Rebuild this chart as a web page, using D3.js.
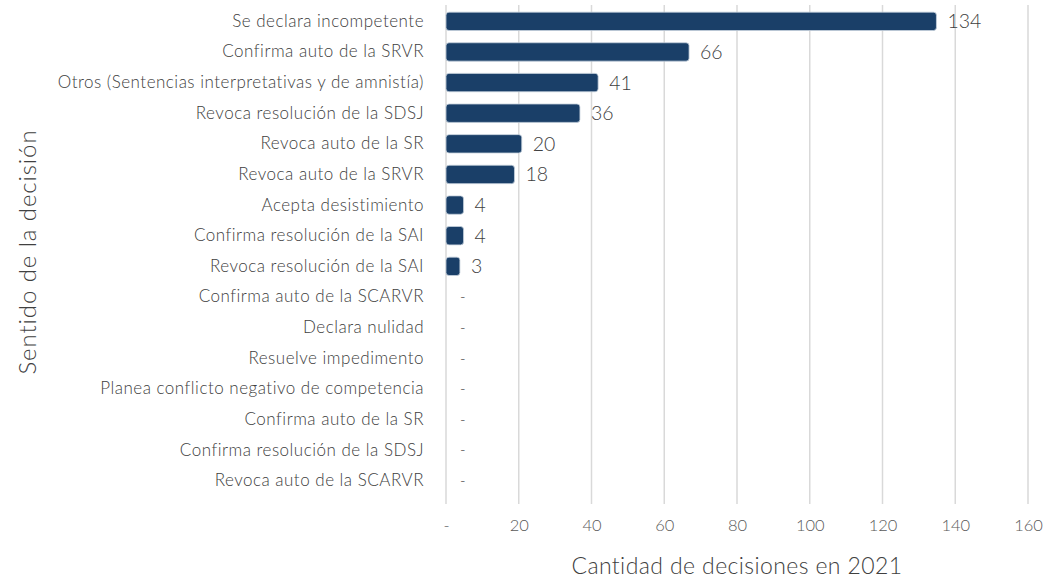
<!DOCTYPE html>
<html>
<head>
<meta charset="utf-8">
<script src="https://cdn.jsdelivr.net/npm/d3@7"></script>
<style>
  body { margin: 0; background: #fff; }
  svg { font-family: Lato, "Open Sans", sans-serif; }
</style>
</head>
<body>
<div id="chart"></div>
<script>
const categories = [
  "Se declara incompetente",
  "Confirma auto de la SRVR",
  "Otros (Sentencias interpretativas y de amnistía)",
  "Revoca resolución de la SDSJ",
  "Revoca auto de la SR",
  "Revoca auto de la SRVR",
  "Acepta desistimiento",
  "Confirma resolución de la SAI",
  "Revoca resolución de la SAI",
  "Confirma auto de la SCARVR",
  "Declara nulidad",
  "Resuelve impedimento",
  "Planea conflicto negativo de competencia",
  "Confirma auto de la SR",
  "Confirma resolución de la SDSJ",
  "Revoca auto de la SCARVR"
];
const values = [134, 66, 41, 36, 20, 18, 4, 4, 3, 0, 0, 0, 0, 0, 0, 0];
const xTicks = [0, 20, 40, 60, 80, 100, 120, 140, 160];

const width = 1047, height = 580;
const margin = { top: 6, right: 19, bottom: 84, left: 446 };

const svg = d3.select("#chart").append("svg")
  .attr("width", width)
  .attr("height", height);

const x = d3.scaleLinear()
  .domain([0, 160])
  .range([margin.left, width - margin.right]);

const y = d3.scaleBand()
  .domain(categories)
  .range([margin.top, height - margin.bottom])
  .paddingInner(0.4)
  .paddingOuter(0.2);

const fmt = v => v === 0 ? "-" : d3.format("d")(v);

// líneas de cuadrícula
svg.append("g")
  .selectAll("line")
  .data(xTicks)
  .enter().append("line")
  .attr("x1", d => x(d))
  .attr("x2", d => x(d))
  .attr("y1", margin.top - 1)
  .attr("y2", height - margin.bottom + 8)
  .attr("stroke", "#d9d9d9")
  .attr("stroke-width", 1.5);

// eje x
const xAxis = d3.axisBottom(x).tickValues(xTicks).tickFormat(fmt).tickSize(0).tickPadding(23);
const gx = svg.append("g")
  .attr("transform", `translate(0,${height - margin.bottom})`)
  .call(xAxis);
gx.select(".domain").remove();
gx.selectAll("text")
  .attr("font-size", "16.5px")
  .attr("font-weight", 300)
  .attr("fill", "#595959")
  .attr("font-family", "Lato, sans-serif");

// eje y
const yAxis = d3.axisLeft(y).tickSize(0).tickPadding(22);
const gy = svg.append("g")
  .attr("transform", `translate(${margin.left},0)`)
  .call(yAxis);
gy.select(".domain").remove();
gy.selectAll("text")
  .attr("font-size", "17px")
  .attr("font-weight", 300)
  .attr("letter-spacing", "0.5px")
  .attr("fill", "#404040")
  .attr("font-family", "Lato, sans-serif");

// barras
svg.append("g")
  .selectAll("rect")
  .data(values)
  .enter().append("rect")
  .filter(d => d > 0)
  .attr("x", x(0))
  .attr("y", (d, i) => y(categories[i]))
  .attr("height", y.bandwidth())
  .attr("width", d => x(d) - x(0) + 3)
  .attr("rx", 3)
  .attr("fill", "#1a3f68")
  .attr("stroke", "#c5d0dc")
  .attr("stroke-width", 0.8);

// etiquetas de valor
svg.append("g")
  .selectAll("text")
  .data(values)
  .enter().append("text")
  .attr("x", d => x(d) + 14)
  .attr("y", (d, i) => y(categories[i]) + y.bandwidth() / 2)
  .attr("dy", "0.36em")
  .attr("font-size", d => d === 0 ? "15px" : "19.5px")
  .attr("font-weight", 300)
  .attr("fill", "#404040")
  .text(fmt);

// títulos de ejes
svg.append("text")
  .attr("x", (x(0) + x(160)) / 2)
  .attr("y", 574)
  .attr("text-anchor", "middle")
  .attr("font-size", "23px")
  .attr("font-weight", 300)
  .attr("letter-spacing", "0.4px")
  .attr("fill", "#404040")
  .text("Cantidad de decisiones en 2021");

svg.append("text")
  .attr("transform", `translate(36,${(margin.top + height - margin.bottom) / 2 + 1}) rotate(-90)`)
  .attr("text-anchor", "middle")
  .attr("font-size", "24px")
  .attr("font-weight", 300)
  .attr("letter-spacing", "0.9px")
  .attr("fill", "#404040")
  .text("Sentido de la decisión");
</script>
</body>
</html>
